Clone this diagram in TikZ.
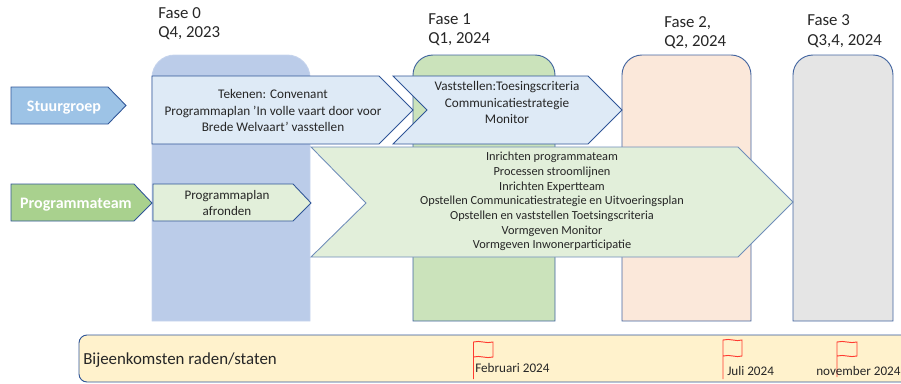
\documentclass[tikz,border=0pt]{standalone}
\usepackage{fontspec}
\setmainfont{Carlito}
\definecolor{lijn}{HTML}{2F5597}
\definecolor{lijnlicht}{HTML}{6F8DB9}
\definecolor{fase0kleur}{HTML}{B4C7E7}
\definecolor{fase1kleur}{HTML}{C5E0B4}
\definecolor{fase2kleur}{HTML}{FBE5D6}
\definecolor{fase3kleur}{HTML}{E2E2E2}
\definecolor{stuurkleur}{HTML}{9DC3E6}
\definecolor{teamkleur}{HTML}{A9D18E}
\definecolor{lichtblauw}{HTML}{DEEAF6}
\definecolor{lichtgroen}{HTML}{E2EFDA}
\definecolor{balkkleur}{HTML}{FFF2CC}
\definecolor{vlagkleur}{HTML}{FF3B30}
\definecolor{tekstkleur}{HTML}{262626}
\begin{document}
\begin{tikzpicture}[x=0.75pt,y=-0.75pt]
\tikzset{FaseVak/.style={draw=lijn,line width=0.7pt,opacity=0.9}}
\tikzset{Pijl/.style={draw=lijn,line width=0.65pt,line join=miter}}
\tikzset{FaseTekst/.style={anchor=west,align=left,inner sep=0pt,font=\fontsize{12.6}{14.5}\selectfont,text=tekstkleur}}
\tikzset{PijlTekst/.style={align=center,inner sep=0pt,font=\fontsize{9.9}{12.1}\selectfont,text=tekstkleur}}
\tikzset{LijstTekst/.style={align=center,inner sep=0pt,font=\fontsize{9.25}{11}\selectfont,text=tekstkleur}}
\tikzset{RolTekst/.style={inner sep=0pt,text=white,font=\fontsize{12}{14}\selectfont\bfseries}}
\tikzset{VlagTekst/.style={anchor=west,inner sep=0pt,font=\fontsize{9.85}{11}\selectfont,text=tekstkleur}}
\tikzset{Vlag/.style={draw=vlagkleur,line width=0.7pt}}
\useasboundingbox (0,0) rectangle (901,383);
\draw[FaseVak,draw=fase0kleur!80!white,fill=fase0kleur] (152,321) [rounded corners=17pt] -- (152,55) -- (310,55) [sharp corners] -- (310,321) -- cycle;
\draw[FaseVak,fill=fase1kleur] (413,321) [rounded corners=15pt] -- (413,55) -- (555,55) [sharp corners] -- (555,321) -- cycle;
\draw[FaseVak,fill=fase2kleur] (622,321) [rounded corners=15pt] -- (622,55) -- (751,55) [sharp corners] -- (751,321) -- cycle;
\draw[FaseVak,fill=fase3kleur] (793,321) [rounded corners=15pt] -- (793,55) -- (893,55) [sharp corners] -- (893,321) -- cycle;
\node[FaseTekst] (fase0) at (158,23.5) {Fase 0\\Q4, 2023};
\node[FaseTekst] (fase1) at (428,29.5) {Fase 1\\Q1, 2024};
\node[FaseTekst] (fase2) at (664,32.5) {Fase 2,\\Q2, 2024};
\node[FaseTekst] (fase3) at (807,31) {Fase 3\\Q3,4, 2024};
\draw[Pijl,fill=stuurkleur] (11,87) -- (108,87) -- (126,105.5) -- (108,124) -- (11,124) -- cycle;
\node[RolTekst] (stuurgroep) at (64,107.5) {Stuurgroep};
\draw[Pijl,fill=teamkleur] (11,184) -- (134,184) -- (152,203) -- (134,221) -- (11,221) -- cycle;
\node[RolTekst] (programmateam) at (76,204.5) {Programmateam};
\draw[Pijl,fill=lichtblauw] (152,76) -- (379,76) -- (413,110) -- (379,144) -- (152,144) -- cycle;
\node[PijlTekst] (tekenen) at (273,110.5) {Tekenen: Convenant\\Programmaplan 'In volle vaart door voor\\Brede Welvaart' vasstellen};
\draw[Pijl,fill=lichtblauw] (393,76) -- (588,76) -- (622,110) -- (588,144) -- (393,144) -- (427,110) -- cycle;
\node[PijlTekst] (vaststellen) at (507,102.5) {Vaststellen:Toesingscriteria\\Communicatiestrategie\\Monitor};
\draw[Pijl,draw=lijnlicht,fill=lichtgroen] (311,147) -- (738,147) -- (793,202) -- (738,257) -- (311,257) -- (366,203) -- cycle;
\node[LijstTekst] (inrichten) at (552,201.5) {Inrichten programmateam\\Processen stroomlijnen\\Inrichten Expertteam\\Opstellen Communicatiestrategie en Uitvoeringsplan\\Opstellen en vaststellen Toetsingscriteria\\Vormgeven Monitor\\Vormgeven Inwonerparticipatie};
\draw[Pijl,fill=lichtgroen] (153,184) -- (293,184) -- (311,203) -- (293,221) -- (153,221) -- cycle;
\node[LijstTekst,font=\fontsize{9.8}{11.4}\selectfont] (afronden) at (227,203) {Programmaplan\\afronden};
\draw[draw=lijn,line width=0.7pt,fill=balkkleur] (901,335) [rounded corners=6pt] -- (79,335) -- (79,382) [sharp corners] -- (901,382);
\node[FaseTekst,font=\fontsize{12.65}{14}\selectfont] (bijeenkomsten) at (83,360) {Bijeenkomsten raden/staten};
\draw[Vlag] (473.5,379) -- (473.5,342) .. controls (480,340) and (486,344) .. (493,342) -- (493,357) .. controls (486,359) and (480,355) .. (473.5,357);
\node[VlagTekst] (februari) at (475,368) {Februari 2024};
\draw[Vlag] (723,379) -- (723,340) .. controls (730,338) and (736,342) .. (742,340) -- (742,356) .. controls (736,358) and (730,354) .. (723,356);
\node[VlagTekst] (juli) at (727,371) {Juli 2024};
\draw[Vlag] (837,377) -- (837,342) .. controls (844,340) and (850,344) .. (857,342) -- (857,356) .. controls (850,358) and (844,354) .. (837,356);
\node[VlagTekst] (november) at (816,371) {november 2024};
\end{tikzpicture}
\end{document}
